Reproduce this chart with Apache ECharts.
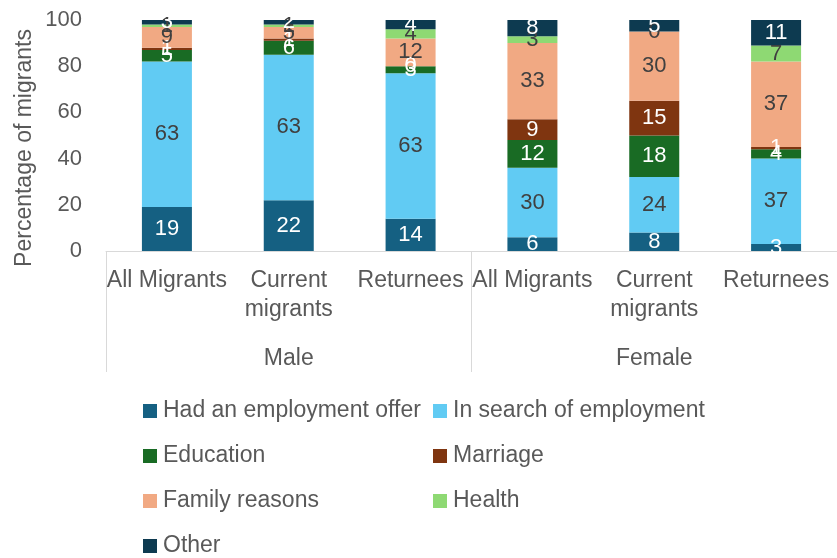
<!DOCTYPE html>
<html><head><meta charset="utf-8">
<script src="https://cdn.jsdelivr.net/npm/echarts@6/dist/echarts.min.js"></script>
<style>html,body{margin:0;padding:0;background:#fff}#c{width:837px;height:558px}</style>
</head><body><div id="c"></div>
<script>
const categories = ['All Migrants', 'Current\nmigrants', 'Returnees', 'All Migrants', 'Current\nmigrants', 'Returnees'];
const groups = ['Male', 'Female'];
const yTicks = [0, 20, 40, 60, 80, 100];
const hadOffer   = [19, 22, 14, 6, 8, 3];
const inSearch   = [63, 63, 63, 30, 24, 37];
const education  = [5, 6, 3, 12, 18, 4];
const marriage   = [1, 1, 0, 9, 15, 1];
const family     = [9, 5, 12, 33, 30, 37];
const health     = [1, 1, 4, 3, 0, 7];
const other      = [3, 2, 4, 8, 5, 11];

const seriesDefs = [
  ['Had an employment offer', hadOffer, '#156082', '#ffffff'],
  ['In search of employment', inSearch, '#61CBF3', '#404040'],
  ['Education', education, '#196B24', '#ffffff'],
  ['Marriage', marriage, '#7F3510', '#ffffff'],
  ['Family reasons', family, '#F1A983', '#404040'],
  ['Health', health, '#8ED973', '#404040'],
  ['Other', other, '#0D3A50', '#ffffff']
];
const FONT = 'Liberation Sans, Arial, sans-serif';
const chart = echarts.init(document.getElementById('c'));
const legendCommon = {
  orient: 'vertical', top: 399, padding: 0, itemWidth: 14, itemHeight: 14, itemGap: 21,
  textStyle: {fontFamily: FONT, fontSize: 23, color: '#595959', lineHeight: 24, padding: [0,0,0,1]},
  icon: 'rect', selectedMode: false
};
chart.setOption({
  animation: false,
  textStyle: {fontFamily: FONT},
  grid: {left: 106, right: -9, top: 20, bottom: 307, containLabel: false},
  legend: [
    Object.assign({left: 143, data: ['Had an employment offer', 'Education', 'Family reasons', 'Other']}, legendCommon),
    Object.assign({left: 433, data: ['In search of employment', 'Marriage', 'Health']}, legendCommon)
  ],
  graphic: [{
    type: 'text', x: 25, y: 148, rotation: Math.PI / 2,
    style: {text: 'Percentage of migrants', fontFamily: FONT, fontSize: 23, fill: '#595959', align: 'center', verticalAlign: 'middle'}
  }],
  xAxis: [{
    type: 'category', data: categories,
    axisLine: {show: true, lineStyle: {color: '#D9D9D9', width: 1}},
    axisTick: {show: true, interval: function (i) { return i % 3 === 0; }, length: 121, lineStyle: {color: '#D9D9D9'}},
    axisLabel: {interval: 0, margin: 15, fontSize: 23, color: '#595959', lineHeight: 29, fontFamily: FONT}
  }, {
    type: 'category', data: groups, position: 'bottom', offset: 86,
    axisLine: {show: false}, axisTick: {show: false},
    axisLabel: {interval: 0, margin: 10, fontSize: 23, color: '#595959', fontFamily: FONT}
  }],
  yAxis: {
    type: 'value', min: yTicks[0], max: yTicks[yTicks.length - 1], interval: 20,
    axisLine: {show: false}, axisTick: {show: false}, splitLine: {show: false},
    axisLabel: {margin: 24, fontSize: 22, color: '#595959', fontFamily: FONT}
  },
  series: seriesDefs.map(function (d) {
    return {
      name: d[0], type: 'bar', stack: 'total', data: d[1], barWidth: 50, xAxisIndex: 0,
      itemStyle: {color: d[2]},
      label: {show: true, position: 'inside', formatter: '{c}', fontSize: 22, color: d[3], fontFamily: FONT}
    };
  })
});
</script></body></html>
